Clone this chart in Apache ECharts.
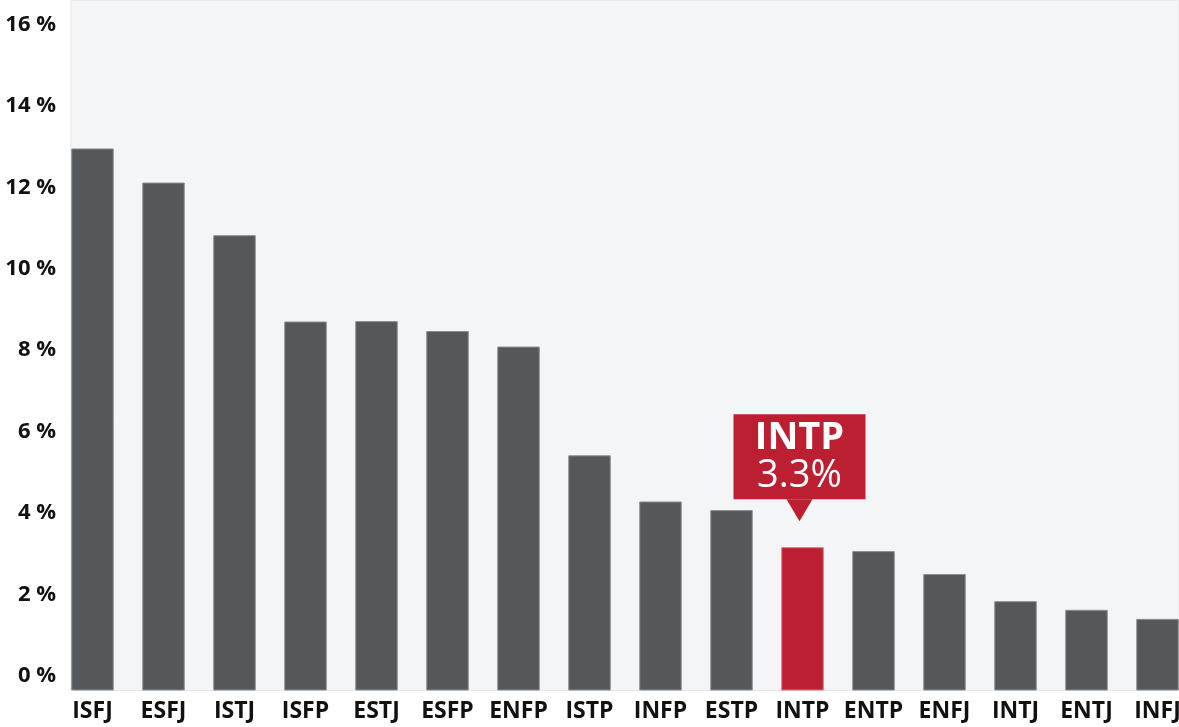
<!DOCTYPE html>
<html>
<head>
<meta charset="utf-8">
<script src="https://cdn.jsdelivr.net/npm/echarts@6/dist/echarts.min.js"></script>
<style>
  html, body { margin: 0; padding: 0; background: #fff; }
  #chart { width: 1179px; height: 727px; }
</style>
</head>
<body>
<div id="chart"></div>
<script>
// MBTI type share, percent
var types = ['ISFJ', 'ESFJ', 'ISTJ', 'ISFP', 'ESTJ', 'ESFP', 'ENFP', 'ISTP', 'INFP', 'ESTP', 'INTP', 'ENTP', 'ENFJ', 'INTJ', 'ENTJ', 'INFJ']
var shares = [12.56, 11.77, 10.55, 8.55, 8.56, 8.33, 7.97, 5.45, 4.38, 4.18, 3.32, 3.23, 2.70, 2.07, 1.87, 1.66]
var highlight = 'INTP'
var highlightLabel = '3.3%'
var yTicks = [0, 16, 2] // min, max, step

var grey = '#55585b'
var red = '#bc1f31'

var barData = []
for (var i = 0; i < types.length; i++) {
  if (types[i] === highlight) {
    barData.push({
      value: shares[i],
      itemStyle: { color: red, borderColor: '#d4747e' },
      label: {
        show: true,
        position: 'top',
        distance: 48,
        offset: [-3, 0],
        width: 132,
        padding: [5, 0, 4, 0],
        backgroundColor: red,
        align: 'center',
        formatter: '{a|' + types[i] + '}\n{b|' + highlightLabel + '}',
        rich: {
          a: { color: '#fff', fontSize: 38, fontWeight: 'bold', lineHeight: 38, fontFamily: 'Open Sans', align: 'center' },
          b: { color: '#fff', fontSize: 38, fontWeight: 'normal', lineHeight: 38, fontFamily: 'Open Sans', align: 'center' }
        }
      }
    })
  } else {
    barData.push(shares[i])
  }
}

var chart = echarts.init(document.getElementById('chart'))
chart.setOption({
  animation: false,
  backgroundColor: '#fff',
  grid: [
    // bars (last band runs past the right edge)
    { left: 57, width: 1136, top: 0, bottom: 36.5, outerBoundsMode: 'none', containLabel: false },
    // plot background
    { left: 71, right: 0, top: 0, bottom: 36.5, show: true, backgroundColor: '#f4f5f7', borderColor: '#e4e5e8', borderWidth: 1 },
    // y labels
    { left: 71, right: 0, top: 24.7, bottom: 51.3 }
  ],
  xAxis: [
    {
      gridIndex: 0,
      type: 'category',
      data: types,
      axisLine: { show: false },
      axisTick: { show: false },
      axisLabel: { interval: 0, color: '#111', fontSize: 23, fontWeight: 'bold', fontFamily: 'Open Sans', margin: 9 }
    },
    { gridIndex: 1, type: 'value', show: false },
    { gridIndex: 2, type: 'value', show: false }
  ],
  yAxis: [
    { gridIndex: 0, type: 'value', min: yTicks[0], max: yTicks[1], show: false },
    { gridIndex: 1, type: 'value', show: false },
    {
      gridIndex: 2,
      type: 'value',
      min: yTicks[0],
      max: yTicks[1],
      interval: yTicks[2],
      axisLine: { show: false },
      axisTick: { show: false },
      splitLine: { show: false },
      axisLabel: { color: '#111', fontSize: 22, fontWeight: 'bold', fontFamily: 'Open Sans', margin: 15, formatter: '{value} %' }
    }
  ],
  series: [{
    type: 'bar',
    xAxisIndex: 0,
    yAxisIndex: 0,
    data: barData,
    barWidth: 42.5,
    itemStyle: { color: grey, borderColor: '#8b8d90', borderWidth: 1 },
    markPoint: {
      silent: true,
      label: { show: false },
      data: [{
        coord: [highlight, shares[types.indexOf(highlight)]],
        symbol: 'path://M0,0L26,0L13,22Z',
        symbolSize: [26, 22],
        symbolOffset: [-3, -37],
        itemStyle: { color: red }
      }]
    }
  }]
})
</script>
</body>
</html>
